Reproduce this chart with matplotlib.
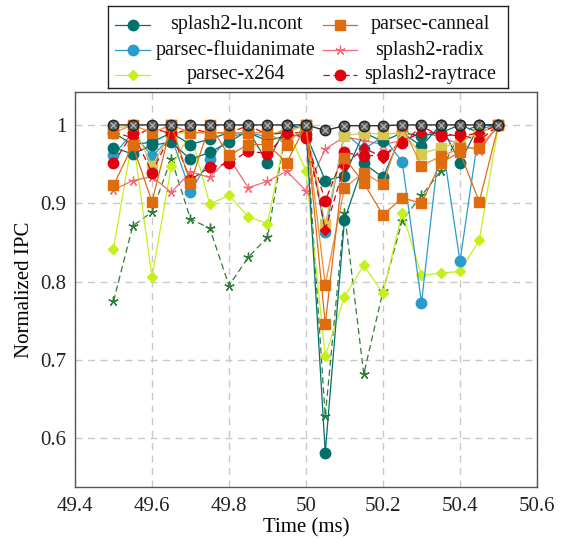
import matplotlib
matplotlib.use("Agg")
import matplotlib.pyplot as plt
from matplotlib.lines import Line2D
import numpy as np

plt.rcParams['font.family'] = ['Liberation Serif', 'DejaVu Serif']
plt.rcParams['mathtext.fontset'] = 'stix'

time_ms = [49.5, 49.55, 49.6, 49.65, 49.7, 49.75, 49.8, 49.85, 49.9, 49.95, 50.0,
           50.05, 50.1, 50.15, 50.2, 50.25, 50.3, 50.35, 50.4, 50.45, 50.5]

lu_ncont = [0.971, 0.963, 0.974, 0.978, 0.956, 0.965, 0.978, 0.993, 0.952, 1.0, 0.995,
            0.582, 0.879, 0.951, 0.933, 0.990, 0.973, 1.0, 0.952, 1.0, 1.0]
canneal = [0.923, 0.974, 0.902, 1.0, 0.926, 1.0, 0.961, 0.975, 0.975, 0.952, 1.0,
           0.746, 0.958, 0.926, 0.885, 0.907, 0.900, 0.952, 0.965, 0.902, 1.0]
fluidanimate = [0.962, 0.990, 0.960, 0.985, 0.915, 0.956, 0.985, 0.990, 0.985, 0.995, 0.998,
                0.863, 0.990, 0.969, 0.985, 0.953, 0.773, 0.990, 0.826, 0.995, 1.0]
radix = [0.917, 0.929, 0.934, 0.914, 0.940, 0.933, 0.958, 0.920, 0.928, 0.941, 0.916,
         0.969, 0.985, 0.980, 0.975, 0.980, 0.990, 0.985, 0.975, 0.967, 1.0]
x264 = [0.842, 0.985, 0.806, 0.947, 0.990, 0.899, 0.910, 0.883, 0.874, 0.997, 0.941,
        0.705, 0.781, 0.821, 0.785, 0.888, 0.808, 0.811, 0.813, 0.853, 1.0]
raytrace = [0.951, 0.990, 0.939, 0.990, 0.930, 0.946, 0.951, 0.967, 0.963, 0.990, 0.983,
            0.903, 0.965, 0.960, 0.962, 0.977, 0.998, 0.986, 0.988, 0.980, 1.0]

extra_otimes = [1.0, 1.0, 1.0, 1.0, 1.0, 1.0, 1.0, 1.0, 1.0, 1.0, 1.0,
                0.993, 0.999, 0.999, 0.999, 1.0, 1.0, 1.0, 1.0, 1.0, 1.0]
extra_khaki = [0.995, 1.0, 0.948, 0.990, 0.990, 0.990, 0.990, 0.990, 0.990, 0.990, 1.0,
               0.873, 0.986, 0.990, 0.988, 0.990, 0.963, 0.971, 0.978, 0.990, 1.0]
extra_gstar = [0.775, 0.871, 0.889, 0.957, 0.880, 0.868, 0.795, 0.831, 0.857, 0.998, 1.0,
               0.628, 0.888, 0.682, 0.788, 0.878, 0.910, 0.941, 0.990, 1.0, 1.0]
extra_rdiamond = [0.990, 0.984, 0.997, 0.988, 0.995, 0.990, 0.990, 0.999, 0.988, 0.990, 0.990,
                  0.866, 0.948, 0.971, 0.958, 0.980, 0.990, 0.990, 0.985, 0.990, 1.0]
extra_teal = [0.990, 0.975, 0.978, 0.990, 0.975, 0.982, 0.990, 0.990, 0.980, 0.986, 0.988,
              0.929, 0.935, 0.990, 0.979, 0.990, 0.986, 0.990, 1.0, 0.990, 1.0]
extra_orange = [0.990, 1.0, 0.990, 1.0, 0.990, 0.990, 0.990, 0.990, 0.990, 0.975, 1.0,
                0.796, 0.920, 0.939, 0.924, 0.998, 0.948, 0.960, 0.970, 0.971, 1.0]

x_ticks = [49.4, 49.6, 49.8, 50.0, 50.2, 50.4, 50.6]
x_tick_labels = ['49.4', '49.6', '49.8', '50', '50.2', '50.4', '50.6']
y_ticks = [0.6, 0.7, 0.8, 0.9, 1.0]
y_tick_labels = ['0.6', '0.7', '0.8', '0.9', '1']

TEAL = '#00706c'
ORANGE = '#e06c10'
BLUE = '#2a9ccc'
PINK = '#f06a78'
YGREEN = '#c6ef1e'
RED = '#e0000e'
KHAKI = '#d8c850'
GSTAR = '#2e7d3a'

W, H = 567, 539
fig = plt.figure(figsize=(W/100, H/100), dpi=100)
ax = fig.add_axes([75/W, 1-487/H, (537-75)/W, (487-92)/H])

star = (5, 2, 0)
lw = 0.9
dash = (0, (5, 3))

styles = {
    'splash2-lu.ncont': dict(color=TEAL, lw=lw, marker='o', ms=7.5),
    'parsec-canneal': dict(color=ORANGE, lw=lw, marker='s', ms=7.5),
    'parsec-fluidanimate': dict(color=BLUE, lw=lw, marker='o', ms=7.5),
    'splash2-radix': dict(color=PINK, lw=lw, marker=star, ms=7, mew=0.9),
    'parsec-x264': dict(color=YGREEN, lw=lw, marker='D', ms=5),
    'splash2-raytrace': dict(color=RED, ls=dash, lw=lw, marker='o', ms=7.5),
}

ax.plot(time_ms, extra_gstar, color=GSTAR, ls=dash, lw=lw, marker=star, ms=7, mew=1.0)
ax.plot(time_ms, x264, **styles['parsec-x264'])
ax.plot(time_ms, radix, **styles['splash2-radix'])
ax.plot(time_ms, fluidanimate, **styles['parsec-fluidanimate'])
ax.plot(time_ms, extra_teal, color=TEAL, lw=lw, marker='o', ms=7.5)
ax.plot(time_ms, lu_ncont, **styles['splash2-lu.ncont'])
ax.plot(time_ms, extra_khaki, color=KHAKI, lw=lw, marker='s', ms=7.5)
ax.plot(time_ms, extra_rdiamond, color=RED, ls=dash, lw=lw, marker='D', ms=5)
ax.plot(time_ms, raytrace, **styles['splash2-raytrace'])
ax.plot(time_ms, extra_orange, color='#f08a30', lw=lw, marker='s', ms=7.5, mfc=ORANGE, mec=ORANGE)
ax.plot(time_ms, canneal, **styles['parsec-canneal'])
ax.plot(time_ms, extra_otimes, color='#333333', lw=1.0, marker='o', ms=7.5, mfc='#5a5a5a', mec='#222222')
ax.plot(time_ms, extra_otimes, ls='none', marker='x', ms=5, mec='#bbbbbb', mew=0.8)

ax.set_xlim(49.4, 50.6)
ax.set_ylim(0.538, 1.042)
ax.set_xticks(x_ticks)
ax.set_xticklabels(x_tick_labels)
ax.set_yticks(y_ticks)
ax.set_yticklabels(y_tick_labels)
ax.tick_params(axis='both', length=0, labelsize=15, colors='#222222')
ax.tick_params(axis='x', pad=7)
ax.tick_params(axis='y', pad=6)
ax.grid(True, color='#c8c8c8', ls=(0, (5, 4)), lw=1.0)
ax.set_axisbelow(True)
for s in ax.spines.values():
    s.set_color('#555555')
    s.set_linewidth(1.0)

ax.set_xlabel('Time (ms)', fontsize=15, labelpad=2)
ax.set_ylabel('Normalized IPC', fontsize=15, labelpad=5)

# Legend box (pgfplots style: centred labels)
L, T, R, B = 108, 6, 508, 88
lax = fig.add_axes([L/W, 1-B/H, (R-L)/W, (B-T)/H])
lax.set_xlim(L, R)
lax.set_ylim(B, T)
lax.set_xticks([])
lax.set_yticks([])
for s in lax.spines.values():
    s.set_color('#222222')
    s.set_linewidth(1.0)

legend_cols = [
    (['splash2-lu.ncont', 'parsec-fluidanimate', 'parsec-x264'], 115, 150, 236),
    (['parsec-canneal', 'splash2-radix', 'splash2-raytrace'], 323, 357, 430),
]
rows_y = [25, 50, 75]
for names, hx0, hx1, tx in legend_cols:
    for name, yy in zip(names, rows_y):
        st = dict(styles[name])
        lax.add_line(Line2D([hx0, hx1], [yy, yy], **{k: v for k, v in st.items() if k not in ('marker', 'ms', 'mew')}))
        mk = {k: v for k, v in st.items() if k in ('marker', 'ms', 'mew', 'color')}
        lax.add_line(Line2D([(hx0 + hx1) / 2], [yy], ls='none', **mk))
        lax.text(tx, yy, name, ha='center', va='center', fontsize=14.5, color='#111111')

fig.savefig('out.png', dpi=100)
